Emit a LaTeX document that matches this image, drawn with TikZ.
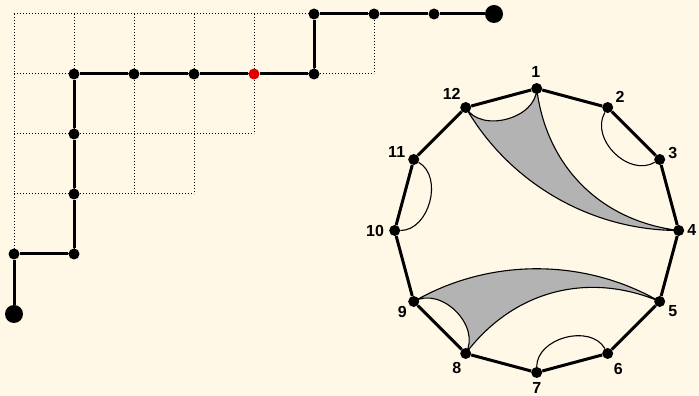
\documentclass[tikz,border=0pt]{standalone}
\usepackage{fontspec}
\setmainfont{Liberation Sans}
\definecolor{bgc}{RGB}{255,248,231}
\definecolor{shadec}{RGB}{179,179,179}
\definecolor{reddot}{RGB}{225,0,0}
\pgfdeclarelayer{paper}
\pgfdeclarelayer{back}
\pgfsetlayers{paper,back,main}
\begin{document}
\begin{tikzpicture}[x=1pt,y=1pt,
  vdot/.style={circle,fill=black,inner sep=0,minimum size=11pt},
  bigdot/.style={circle,fill=black,inner sep=0,minimum size=18pt},
  rdot/.style={circle,fill=reddot,inner sep=0,minimum size=11pt},
  pathline/.style={line width=3pt},
  gridline/.style={dotted,line width=1pt,black},
  edgeline/.style={line width=3pt},
  chord/.style={line width=1.1pt},
  region/.style={chord,fill=shadec},
  lab/.style={font=\bfseries\fontsize{16}{16}\selectfont,inner sep=0}]
\begin{pgfonlayer}{paper}
\fill[bgc] (0,0) rectangle (699,396);
\end{pgfonlayer}
\useasboundingbox (0,0) rectangle (699,396);
% dotted grid (Young diagram)
\draw[gridline] (14,382) -- (374,382);
\draw[gridline] (14,322) -- (374,322);
\draw[gridline] (14,262) -- (254,262);
\draw[gridline] (14,202) -- (194,202);
\draw[gridline] (14,142) -- (74,142);
\draw[gridline] (14,382) -- (14,142);
\draw[gridline] (74,382) -- (74,142);
\draw[gridline] (134,382) -- (134,202);
\draw[gridline] (194,382) -- (194,202);
\draw[gridline] (254,382) -- (254,262);
\draw[gridline] (314,382) -- (314,322);
\draw[gridline] (374,382) -- (374,322);
% lattice path
\node[bigdot] (s) at (14,82) {};
\node[vdot] (a1) at (14,142) {};
\node[vdot] (a2) at (74,142) {};
\node[vdot] (a3) at (74,202) {};
\node[vdot] (a4) at (74,262) {};
\node[vdot] (a5) at (74,322) {};
\node[vdot] (a6) at (134,322) {};
\node[vdot] (a7) at (194,322) {};
\node[rdot] (a8) at (254,322) {};
\node[vdot] (a9) at (314,322) {};
\node[vdot] (a10) at (314,382) {};
\node[vdot] (a11) at (374,382) {};
\node[vdot] (a12) at (434,382) {};
\node[bigdot] (e) at (494,382) {};
\draw[pathline] (s) -- (a1) -- (a2) -- (a3) -- (a4) -- (a5) -- (a6) -- (a7) -- (a8) -- (a9) -- (a10) -- (a11) -- (a12) -- (e);
% polygon
\foreach \k in {1,...,12}
  \node[vdot] (n\k) at ({536.7+142*cos(90-30*(\k-1))},{165.5+142*sin(90-30*(\k-1))}) {};
\draw[edgeline] (n1) -- (n2) -- (n3) -- (n4) -- (n5) -- (n6) -- (n7) -- (n8) -- (n9) -- (n10) -- (n11) -- (n12) -- (n1);
\begin{pgfonlayer}{back}
\filldraw[region] (n12.center) to[bend right=75,looseness=1.05] (n1.center)
  to[bend right=38] (n4.center) to[bend left=30,looseness=0.91] (n12.center) -- cycle;
\filldraw[region] (n9.center) to[bend left=30,looseness=0.91] (n5.center)
  to[bend right=38] (n8.center) to[bend right=75,looseness=1.1] (n9.center) -- cycle;
\end{pgfonlayer}
\draw[chord] (n2) to[bend right=75,looseness=1.1] (n3);
\draw[chord] (n10) to[bend right=75,looseness=1.05] (n11);
\draw[chord] (n6) to[bend right=75,looseness=1.05] (n7);
% labels
\node[lab] (l1) at (535.7,324.3) {1};
\node[lab] (l2) at (620,299.3) {2};
\node[lab] (l3) at (672.7,242.7) {3};
\node[lab] (l4) at (691.7,166) {4};
\node[lab] (l5) at (672.7,85) {5};
\node[lab] (l6) at (618.3,26.7) {6};
\node[lab] (l7) at (536.7,7.7) {7};
\node[lab] (l8) at (456.7,27.7) {8};
\node[lab] (l9) at (402.3,83.7) {9};
\node[lab] (l10) at (375,165.3) {10};
\node[lab] (l11) at (396.7,244.3) {11};
\node[lab] (l12) at (451.7,302) {12};
\end{tikzpicture}
\end{document}
